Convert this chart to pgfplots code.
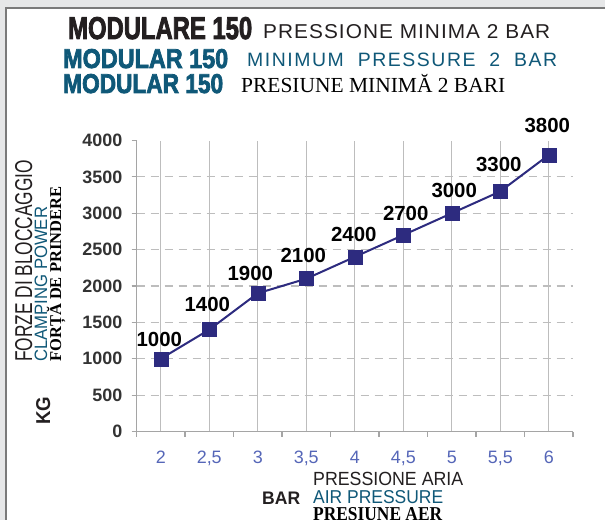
\documentclass[border=0pt]{standalone}
\usepackage{graphicx}
\usepackage{fontspec}
\usepackage{pgfplots}
\pgfplotsset{compat=1.18}
\usepackage{pgfplotstable}
\setmainfont{Liberation Sans}
\newfontfamily\serifro{Liberation Serif}
\newfontfamily\heavy{Liberation Sans}[FakeBold=3]
\definecolor{teal1}{HTML}{0F5878}
\definecolor{navy}{HTML}{2D2B7F}
\definecolor{tickblue}{HTML}{5566B8}
\definecolor{gridg}{HTML}{BDBDBD}
\definecolor{axisg}{HTML}{A5A5A5}
\definecolor{bgg}{HTML}{E6E7E8}
\definecolor{frameg}{HTML}{7A7A7A}
\definecolor{darktxt}{HTML}{231F20}
\definecolor{ytc}{HTML}{333333}
\newcommand{\fs}[1]{\fontsize{#1}{#1}\selectfont}
\newcommand{\bx}[3]{\resizebox{#1bp}{#2bp}{#3}}

\pgfplotstableread{
x   y    lab  dx   dy
2   1000 1000 -1.5 12
2.5 1400 1400 -2   18
3   1900 1900 -7.5 12
3.5 2100 2100 -3   16
4   2400 2400 -1   15
4.5 2700 2700 2.5  14
5   3000 3000 2.5  15
5.5 3300 3300 -1.5 20
6   3800 3800 -1.5 22
}\datatab

\begin{document}
\begin{tikzpicture}[x=1bp,y=-1bp]
\useasboundingbox (0,0) rectangle (605,520);
\fill[bgg] (0,0) rectangle (605,520);
\fill[white] (6,8) rectangle (605,520);
\draw[frameg,line width=2bp] (6,520) -- (6,8) -- (605,8);

% titles
\node[anchor=base west,inner sep=0pt,text=darktxt] at (68,39) {\bx{184}{22}{\heavy\bfseries MODULARE 150}};
\node[anchor=base west,inner sep=0pt,text=darktxt] at (263,39) {\bx{287}{14}{\addfontfeature{LetterSpace=5}PRESSIONE MINIMA 2 BAR}};
\node[anchor=base west,inner sep=0pt,text=teal1] at (63,68) {\bx{165}{19}{\heavy\bfseries MODULAR 150}};
\node[anchor=base west,inner sep=0pt,text=teal1] at (247,67) {\bx{310}{13.5}{\addfontfeature{LetterSpace=8}MINIMUM\ \ PRESSURE\ \ 2\ \ BAR}};
\node[anchor=base west,inner sep=0pt,text=teal1] at (63,93) {\bx{160}{19}{\heavy\bfseries MODULAR 150}};
\node[anchor=base west,inner sep=0pt,text=black] at (241,93) {\resizebox{264bp}{!}{\serifro PRESIUNE MINIMĂ 2 BARI}};

% y label
\node[rotate=90,anchor=base west,inner sep=0pt,text=darktxt] at (32,362) {\bx{202}{17}{FORZE DI BLOCCAGGIO}};
\node[rotate=90,anchor=base west,inner sep=0pt,text=teal1] at (47,362) {\bx{155}{12.5}{CLAMPING POWER}};
\node[rotate=90,anchor=base west,inner sep=0pt,text=black] at (61,362) {\resizebox{175bp}{!}{\serifro\bfseries FORȚĂ DE PRINDERE}};
\node[rotate=90,anchor=base west,inner sep=0pt,text=darktxt] at (50,425) {\bx{28}{14}{\bfseries KG}};

% x label
\node[anchor=base west,inner sep=0pt,text=darktxt] at (313,485) {\bx{150}{13.3}{PRESSIONE ARIA}};
\node[anchor=base west,inner sep=0pt,text=teal1] at (313,503) {\bx{130}{13}{AIR PRESSURE}};
\node[anchor=base west,inner sep=0pt,text=black] at (313,520.5) {\bx{129}{13}{\serifro\bfseries PRESIUNE AER}};
\node[anchor=base west,inner sep=0pt,text=darktxt] at (262,504) {\bx{38}{12.5}{\bfseries BAR}};

\begin{axis}[
  at={(136.5bp,-431.5bp)}, anchor=south west,
  scale only axis, width=436.5bp, height=291bp,
  xmin=1.75, xmax=6.25, ymin=0, ymax=4000,
  axis x line=bottom, axis y line=left,
  axis line style={axisg, line width=1.3bp, -},
  tick align=outside,
  xtick={2,2.5,3,3.5,4,4.5,5,5.5,6},
  xticklabels={2,{2,5},3,{3,5},4,{4,5},5,{5,5},6},
  minor xtick={1.75,2.25,2.75,3.25,3.75,4.25,4.75,5.25,5.75,6.25},
  every major x tick/.append style={draw=none},
  minor tick length=5bp, major tick length=5bp,
  every tick/.append style={axisg, line width=1.2bp},
  xmajorgrids,
  major x grid style={gridg, line width=1.3bp},
  ytick={0,500,1000,1500,2000,2500,3000,3500,4000},
  yticklabels={0,500,1000,1500,2000,2500,3000,3500,4000},
  extra y ticks={500,1000,1500,2000,2500,3000,3500},
  extra y tick labels={},
  extra y tick style={grid=major, major grid style={gridg, line width=1.2bp, dash pattern=on 8bp off 6bp}},
  xticklabel style={font=\fs{18}, text=tickblue, anchor=base, inner sep=0pt, yshift=-27bp},
  yticklabel style={font=\fs{18}\bfseries, text=ytc, anchor=east, inner sep=0pt, xshift=-9bp},
  clip=false,
]
\addplot[navy, line width=2bp, mark=square*, mark size=7bp,
  mark options={fill=navy, draw=navy, line width=0.5bp, solid},
  nodes near coords, point meta=explicit symbolic,
  visualization depends on={\thisrow{dx}\as\dx},
  visualization depends on={\thisrow{dy}\as\dy},
  every node near coord/.append style={font=\fs{20.5}\bfseries, text=black, anchor=south, inner sep=0pt, xshift=\dx, yshift=\dy},
] table[x=x, y=y, meta=lab] {\datatab};
\end{axis}
\end{tikzpicture}
\end{document}
